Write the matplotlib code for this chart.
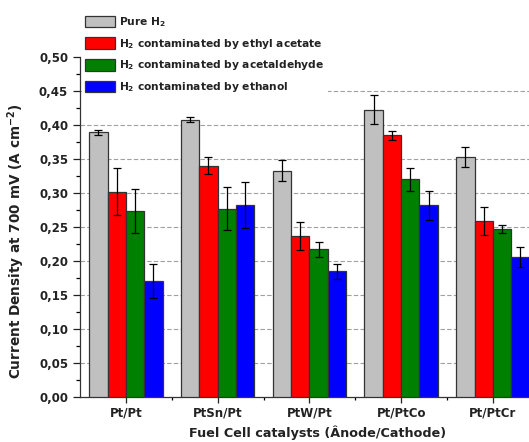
import numpy as np
import matplotlib.pyplot as plt
from matplotlib.ticker import MultipleLocator, FixedLocator

# Catalizadores y series
catalysts = ["Pt/Pt", "PtSn/Pt", "PtW/Pt", "Pt/PtCo", "Pt/PtCr"]
series_labels = ["Pure H$_2$",
                 "H$_2$ contaminated by ethyl acetate",
                 "H$_2$ contaminated by acetaldehyde",
                 "H$_2$ contaminated by ethanol"]
colors = ["#c0c0c0", "#ff0000", "#008000", "#0000ff"]

# Densidad de corriente a 700 mV (A cm-2) y barras de error
pure_h2 = [0.389, 0.408, 0.333, 0.4225, 0.3525]
ethyl_acetate = [0.302, 0.340, 0.237, 0.385, 0.259]
acetaldehyde = [0.2735, 0.277, 0.2176, 0.320, 0.2466]
ethanol = [0.1706, 0.282, 0.185, 0.282, 0.2064]

pure_h2_err = [0.004, 0.004, 0.016, 0.021, 0.0145]
ethyl_acetate_err = [0.035, 0.0125, 0.0205, 0.0065, 0.021]
acetaldehyde_err = [0.032, 0.032, 0.011, 0.017, 0.006]
ethanol_err = [0.025, 0.034, 0.011, 0.021, 0.0145]

values = [pure_h2, ethyl_acetate, acetaldehyde, ethanol]
errors = [pure_h2_err, ethyl_acetate_err, acetaldehyde_err, ethanol_err]

txt = "#222222"
plt.rcParams['font.family'] = ['DejaVu Sans']
plt.rcParams['font.weight'] = 'bold'
plt.rcParams['mathtext.default'] = 'regular'

W, H = 529, 442
fig = plt.figure(figsize=(W / 100, H / 100), dpi=100)
ax = fig.add_axes([80 / W, 45 / H, 458.75 / W, 340 / H])

x = np.arange(len(catalysts))
width = 0.2
handles = []
for i in range(4):
    pos = x - 0.3 + i * width
    b = ax.bar(pos, values[i], width, color=colors[i], edgecolor="#333333",
               linewidth=0.9, zorder=3, label=series_labels[i])
    ax.errorbar(pos, values[i], yerr=errors[i], fmt='none', ecolor='black',
                elinewidth=0.9, capsize=3, capthick=0.9, zorder=4)
    handles.append(b)

ax.set_xlim(-0.5, 4.5)
ax.set_ylim(0, 0.5)
ax.yaxis.set_minor_locator(MultipleLocator(0.025))
yt = np.arange(0, 0.501, 0.05)
ax.set_yticks(yt)
ax.set_yticklabels([f"{v:.2f}".replace(".", ",") for v in yt])
ax.set_xticks(x)
ax.set_xticklabels(catalysts)
ax.xaxis.set_minor_locator(FixedLocator(x[:-1] + 0.5))

ax.tick_params(axis='y', which='major', length=5, width=0.9, direction='out',
               labelsize=8.5, colors=txt)
ax.tick_params(axis='y', which='minor', length=3, width=0.9, direction='out')
ax.tick_params(axis='x', which='major', length=4, width=0.9, direction='out',
               labelsize=8.5, colors=txt, pad=3)
ax.tick_params(axis='x', which='minor', length=2.5, width=0.9, direction='out')

for s in ['top', 'right']:
    ax.spines[s].set_visible(False)
for s in ['left', 'bottom']:
    ax.spines[s].set_linewidth(0.9)
    ax.spines[s].set_color("#333333")

for v in yt[1:-1]:
    ax.axhline(v, color="#a0a0a0", linestyle=(0, (4, 2)), linewidth=0.8, zorder=1)

ax.set_ylabel("Current Density at 700 mV (A cm$^{-2}$)", fontsize=9.8,
              color=txt, fontweight='bold')
ax.yaxis.set_label_coords(-0.116, 0.459)
ax.set_xlabel("Fuel Cell catalysts (Ânode/Cathode)", fontsize=9.2,
              color=txt, fontweight='bold')
ax.xaxis.set_label_coords((318 - 80) / 458.75, -0.085)

leg = fig.legend(handles=handles, loc='upper left',
                 bbox_to_anchor=(82 / W, 1 - 12 / H), fontsize=7.7,
                 frameon=True, facecolor='white', edgecolor='none',
                 framealpha=1, fancybox=False, borderpad=0.3,
                 handlelength=2.8, handleheight=1.3, labelspacing=0.72,
                 handletextpad=0.4, borderaxespad=0)
for t in leg.get_texts():
    t.set_color(txt)

fig.savefig("out.png", dpi=100)
